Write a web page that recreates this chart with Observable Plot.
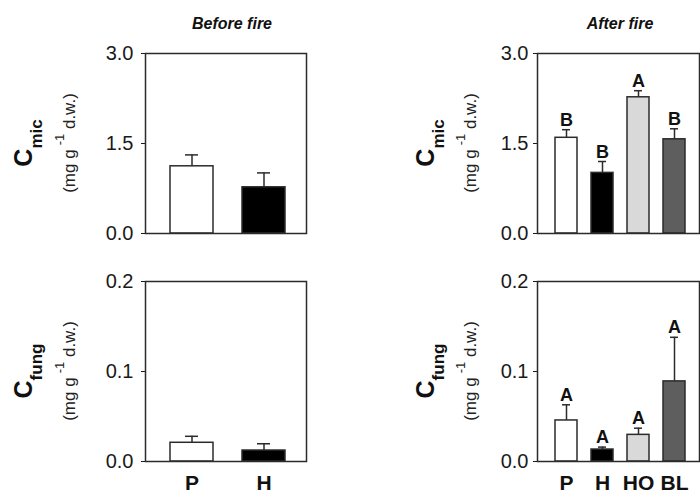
<!DOCTYPE html>
<html>
<head>
<meta charset="utf-8">
<script src="https://cdn.jsdelivr.net/npm/d3@7"></script>
<script src="https://cdn.jsdelivr.net/npm/@observablehq/plot@0.6"></script>
<style>
  html, body { margin: 0; padding: 0; background: #fff; }
  #fig { position: relative; width: 700px; height: 495px; overflow: hidden; font-family: "Liberation Sans", Arial, sans-serif; }
  #fig > svg { position: absolute; }
  #fig g[aria-label="y-axis tick label"], #fig g[aria-label="y-axis"] { font-size: 20px; }
</style>
</head>
<body>
<div id="fig"></div>
<script>
// ---- data ----
const titles = ["Before fire", "After fire"];
const groupsBefore = ["P", "H"];
const groupsAfter = ["P", "H", "HO", "BL"];

const cmicBefore = [1.12, 0.77];
const cmicBeforeErr = [0.19, 0.24];

const cmicAfter = [1.595, 1.01, 2.27, 1.57];
const cmicAfterErr = [0.135, 0.19, 0.11, 0.175];
const cmicAfterLetters = ["B", "B", "A", "B"];

const cfungBefore = [0.0208, 0.0122];
const cfungBeforeErr = [0.0072, 0.0075];

const cfungAfter = [0.0456, 0.0133, 0.0296, 0.089];
const cfungAfterErr = [0.0174, 0.0027, 0.0074, 0.049];
const cfungAfterLetters = ["A", "A", "A", "A"];

const cmicTicks = [0, 1.5, 3.0];
const cfungTicks = [0, 0.1, 0.2];

// ---- styles ----
const FONT = '"Liberation Sans", Arial, sans-serif';
const INK = "#2b2b2b";
const fills = {P: "#ffffff", H: "#000000", HO: "#d9d9d9", BL: "#5e5e5e"};

function panel(o) {
  const data = o.cats.map((c, i) => ({cat: c, v: o.vals[i], e: o.errs[i], letter: o.letters ? o.letters[i] : ""}));
  const marks = [
    Plot.barY(data, {x: "cat", y: "v", fill: d => fills[d.cat], stroke: INK, strokeWidth: 1.5}),
    Plot.ruleX(data, {x: "cat", y1: "v", y2: d => d.v + d.e, stroke: INK, strokeWidth: 1.5}),
    Plot.tickY(data, {x: "cat", y: d => d.v + d.e, stroke: INK, strokeWidth: 1.5, insetLeft: o.capInset, insetRight: o.capInset}),
    Plot.frame({stroke: INK, strokeWidth: 1.5})
  ];
  if (o.letters) {
    marks.push(Plot.text(data, {x: "cat", y: d => d.v + d.e, text: "letter", lineAnchor: "bottom", dy: -4,
      fontWeight: "bold", fontSize: 18, fill: "#111"}));
  }
  if (o.showX) {
    marks.push(Plot.text(o.cats, {x: d => d, text: d => d, frameAnchor: "bottom", lineAnchor: "middle", dy: 22,
      fontWeight: "bold", fontSize: 21, fill: "#111"}));
  }
  const svg = Plot.plot({
    width: o.width, height: o.height,
    marginLeft: o.ml, marginRight: o.mr, marginTop: o.mt, marginBottom: o.mb,
    style: {fontFamily: FONT, fontSize: "20px", color: "#1a1a1a", background: "transparent", overflow: "visible"},
    color: {type: "identity"},
    x: {domain: o.cats, range: o.xRange, paddingInner: 0.4, paddingOuter: 0.2, axis: null},
    y: {domain: o.yDomain, ticks: o.yTicks, tickFormat: d3.format(".1f"), label: null, tickSize: 4, tickPadding: o.tickPad},
    marks
  });
  svg.style.left = o.left + "px";
  svg.style.top = o.top + "px";
  const s = d3.select(svg);
  if (o.title) {
    s.append("text").attr("x", o.titleX).attr("y", 29).attr("text-anchor", "middle")
      .attr("font-family", FONT).attr("font-size", 16).attr("font-weight", "bold").attr("font-style", "italic")
      .attr("fill", "#111").text(o.title);
  }
  // y label: C with subscript, then units line with superscript
  const t1 = s.append("text").attr("transform", `translate(${o.labX1},${o.labY}) rotate(-90)`)
    .attr("text-anchor", "middle").attr("font-family", FONT).attr("font-weight", "bold").attr("fill", "#111");
  t1.append("tspan").attr("font-size", 25).text("C");
  t1.append("tspan").attr("font-size", 17).attr("dy", 10).text(o.sub);
  const t2 = s.append("text").attr("transform", `translate(${o.labX2},${o.labY}) rotate(-90)`)
    .attr("text-anchor", "middle").attr("font-family", FONT).attr("font-size", 17).attr("fill", "#222");
  t2.append("tspan").text("(mg g");
  t2.append("tspan").attr("font-size", 13).attr("dy", -11).attr("dx", 4).text("-1");
  t2.append("tspan").attr("dy", 11).text(" d.w.)");
  document.getElementById("fig").appendChild(svg);
}

// top-left: Cmic before fire
panel({cats: groupsBefore, vals: cmicBefore, errs: cmicBeforeErr, letters: null,
  yDomain: [0, 3], yTicks: cmicTicks, width: 350, height: 250, left: 0, top: 0,
  ml: 145, mr: 44, mt: 53, mb: 17, xRange: [155.5, 299.5], capInset: 15, tickPad: 8,
  showX: false, title: titles[0], titleX: 232, sub: "mic", labX1: 32, labX2: 75, labY: 143});

// top-right: Cmic after fire
panel({cats: groupsAfter, vals: cmicAfter, errs: cmicAfterErr, letters: cmicAfterLetters,
  yDomain: [0, 3], yTicks: cmicTicks, width: 350, height: 250, left: 350, top: 0,
  ml: 187, mr: 1, mt: 53, mb: 17, xRange: [197.8, 341.8], capInset: 7, tickPad: 5,
  showX: false, title: titles[1], titleX: 270, sub: "mic", labX1: 84, labX2: 126, labY: 143});

// bottom-left: Cfung before fire
panel({cats: groupsBefore, vals: cfungBefore, errs: cfungBeforeErr, letters: null,
  yDomain: [0, 0.2], yTicks: cfungTicks, width: 350, height: 245, left: 0, top: 250,
  ml: 145, mr: 44, mt: 31, mb: 34, xRange: [155.5, 299.5], capInset: 15, tickPad: 8,
  showX: true, title: null, sub: "fung", labX1: 32, labX2: 75, labY: 121});

// bottom-right: Cfung after fire
panel({cats: groupsAfter, vals: cfungAfter, errs: cfungAfterErr, letters: cfungAfterLetters,
  yDomain: [0, 0.2], yTicks: cfungTicks, width: 350, height: 245, left: 350, top: 250,
  ml: 187, mr: 1, mt: 31, mb: 34, xRange: [197.8, 341.8], capInset: 7, tickPad: 5,
  showX: true, title: null, sub: "fung", labX1: 84, labX2: 126, labY: 121});
</script>
</body>
</html>
